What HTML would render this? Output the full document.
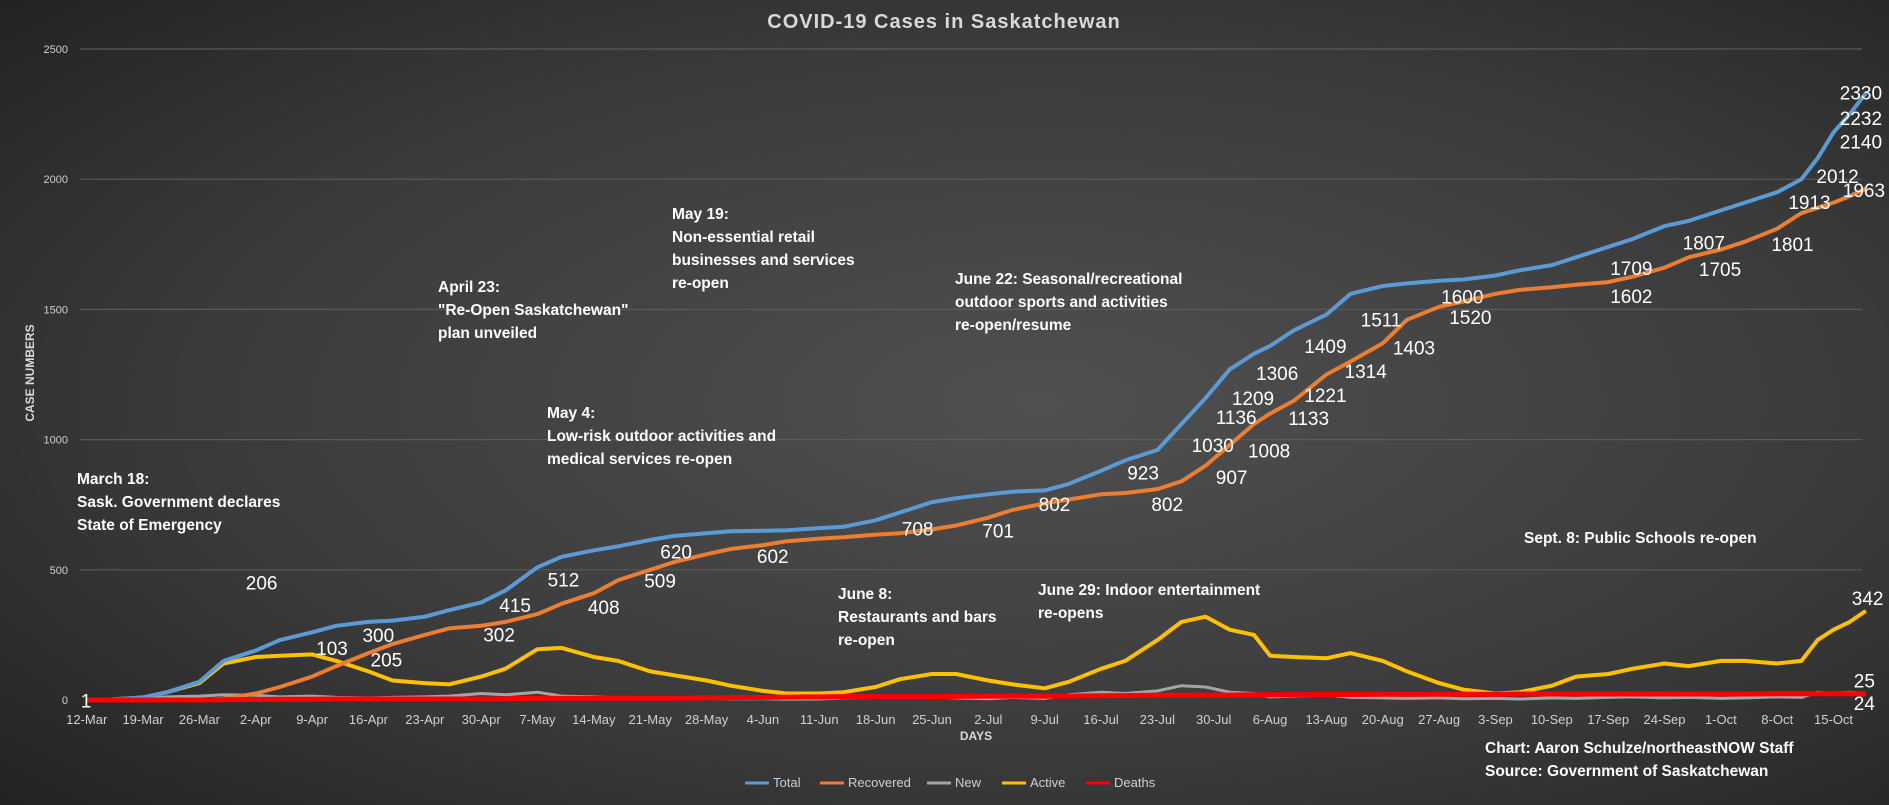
<!DOCTYPE html>
<html><head><meta charset="utf-8"><style>
html,body{margin:0;padding:0;width:1889px;height:805px;overflow:hidden;background:#2a2a2a}
svg{display:block}
text{font-family:"Liberation Sans",sans-serif}
</style></head><body>
<svg id="chart" width="1889" height="805" viewBox="0 0 1889 805" xmlns="http://www.w3.org/2000/svg">
<defs>
<radialGradient id="bg" cx="0.55" cy="0.5" r="0.75">
<stop offset="0" stop-color="#505050"/><stop offset="0.6" stop-color="#3a3a3a"/><stop offset="1" stop-color="#222"/>
</radialGradient>
</defs>
<rect width="1889" height="805" fill="url(#bg)"/>
<text x="944" y="28" text-anchor="middle" font-size="20" font-weight="bold" fill="#d9d9d9" letter-spacing="1">COVID-19 Cases in Saskatchewan</text>
<g id="grid"></g><g id="xaxis"></g><g id="lines"></g><g id="labels"></g>
<text transform="translate(34,373) rotate(-90)" text-anchor="middle" font-size="12" font-weight="bold" fill="#d9d9d9">CASE NUMBERS</text>
<text x="976" y="740" text-anchor="middle" font-size="12" font-weight="bold" fill="#d9d9d9">DAYS</text>
<g fill="#fff" font-size="15.5" font-weight="bold">
<text x="77" y="484">March 18:<tspan x="77" dy="23">Sask. Government declares</tspan><tspan x="77" dy="23">State of Emergency</tspan></text>
<text x="438" y="292">April 23:<tspan x="438" dy="23">"Re-Open Saskatchewan"</tspan><tspan x="438" dy="23">plan unveiled</tspan></text>
<text x="547" y="418">May 4:<tspan x="547" dy="23">Low-risk outdoor activities and</tspan><tspan x="547" dy="23">medical services re-open</tspan></text>
<text x="672" y="219">May 19:<tspan x="672" dy="23">Non-essential retail</tspan><tspan x="672" dy="23">businesses and services</tspan><tspan x="672" dy="23">re-open</tspan></text>
<text x="838" y="599">June 8:<tspan x="838" dy="23">Restaurants and bars</tspan><tspan x="838" dy="23">re-open</tspan></text>
<text x="955" y="284">June 22: Seasonal/recreational<tspan x="955" dy="23">outdoor sports and activities</tspan><tspan x="955" dy="23">re-open/resume</tspan></text>
<text x="1038" y="595">June 29: Indoor entertainment<tspan x="1038" dy="23">re-opens</tspan></text>
<text x="1524" y="543">Sept. 8: Public Schools re-open</text>
<text x="1485" y="753">Chart: Aaron Schulze/northeastNOW Staff</text>
<text x="1485" y="776">Source: Government of Saskatchewan</text>
</g>
<g id="legend" font-size="13" fill="#d9d9d9"></g>
</svg>
<script>
const days=[0,3,7,10,14,17,21,24,28,31,35,38,42,45,49,52,56,59,63,66,70,73,77,80,84,87,91,94,98,101,105,108,112,115,119,122,126,129,133,136,139,142,145,147,150,154,157,161,164,168,171,175,178,182,185,189,192,196,199,203,206,210,213,215,217,219,221];
const totalVals=[1,2,10,30,70,150,190,230,260,285,300,305,320,345,375,420,510,550,575,590,615,630,640,648,650,652,660,665,690,720,760,775,790,800,805,830,880,920,960,1060,1160,1270,1330,1360,1420,1480,1560,1590,1600,1610,1615,1630,1650,1670,1700,1740,1770,1820,1840,1880,1910,1950,2000,2080,2180,2250,2330];
const recoveredVals=[0,0,0,0,0,5,25,50,90,130,180,215,250,275,285,300,330,370,410,460,500,530,560,580,595,610,620,625,635,640,655,670,700,730,755,770,790,795,810,840,900,980,1060,1100,1150,1250,1300,1370,1460,1510,1530,1560,1575,1585,1595,1605,1625,1660,1700,1730,1760,1810,1870,1890,1910,1935,1963];
const newVals=[1,2,6,12,15,20,18,12,15,10,8,10,12,15,25,20,30,15,12,8,10,5,6,4,5,3,4,8,10,15,12,8,5,10,6,20,30,25,35,55,50,30,25,12,15,20,10,8,6,8,5,6,4,8,6,10,12,8,10,6,8,12,10,30,25,30,25];
const activeVals=[1,2,10,30,65,140,165,170,175,150,110,75,65,60,90,120,195,200,165,150,110,95,75,55,35,25,25,30,50,80,100,100,75,60,45,70,120,150,230,300,320,270,250,170,165,160,180,150,110,65,40,25,30,55,90,100,120,140,130,150,150,140,150,230,270,300,342];
const deathVals=[0,0,0,0,0,1,2,3,3,4,4,4,4,4,4,5,6,6,6,6,6,7,8,9,10,11,12,13,13,13,13,14,15,15,15,15,16,17,18,18,19,19,20,20,20,21,21,22,22,22,22,22,23,23,23,23,23,23,23,23,23,24,24,24,24,24,24];
const tickLabels=["12-Mar","19-Mar","26-Mar","2-Apr","9-Apr","16-Apr","23-Apr","30-Apr","7-May","14-May","21-May","28-May","4-Jun","11-Jun","18-Jun","25-Jun","2-Jul","9-Jul","16-Jul","23-Jul","30-Jul","6-Aug","13-Aug","20-Aug","27-Aug","3-Sep","10-Sep","17-Sep","24-Sep","1-Oct","8-Oct","15-Oct"];
const yTicks=[0,500,1000,1500,2000,2500];
const totalLabelDays=[35,52,58,72,102,119,130,138,141,143,146,152,159,169,190,199,213,214.5,221,221,221];
const totalLabelVals=[300,415,512,620,708,802,923,1030,1136,1209,1306,1409,1511,1600,1709,1807,1913,2012,2140,2232,2330];
const recLabelDays=[0,29,36,50,63,70,84,112,133,141,145,150,152,157,163,170,190,204,213,221];
const recLabelVals=[1,103,205,302,408,509,602,701,802,907,1008,1133,1221,1314,1403,1520,1602,1705,1801,1963];
const activeLabelDays=[22,221];
const activeLabelVals=[206,342];
const endLabelVals=[25,24];

const NS="http://www.w3.org/2000/svg";
function X(d){return 86.7+d*8.05;}
function Y(v){return 700-v*0.2604;}
function mk(tag,attrs,parent){const e=document.createElementNS(NS,tag);for(const k in attrs)e.setAttribute(k,attrs[k]);parent.appendChild(e);return e;}
const grid=document.getElementById('grid');
yTicks.forEach(v=>{
  if(v>0){const l=mk('line',{x1:80,x2:1862,y1:Y(v),y2:Y(v),stroke:'#5a5a5a','stroke-width':1.2},grid);
  
  }
  const t=mk('text',{x:68,y:Y(v)+4,'text-anchor':'end','font-size':11,fill:'#d0d0d0'},grid);
  t.textContent=v;
  
  
});
const xa=document.getElementById('xaxis');
tickLabels.forEach((s,i)=>{
  const t=mk('text',{x:X(i*7),y:724,'text-anchor':'middle','font-size':13,fill:'#d0d0d0'},xa);
  t.textContent=s;
  
  
});
const series=[
 {name:'new',vals:newVals,color:'#a5a5a5',w:3},
 {name:'active',vals:activeVals,color:'#ffc000',w:4},
 {name:'recovered',vals:recoveredVals,color:'#ed7d31',w:4},
 {name:'total',vals:totalVals,color:'#5b9bd5',w:4},
 {name:'deaths',vals:deathVals,color:'#ff0000',w:5}
];
const lg=document.getElementById('lines');
series.forEach(s=>{
  const d=s.vals.map((v,i)=>(i?'L':'M')+X(days[i]).toFixed(1)+' '+Y(v).toFixed(1)).join(' ');
  const p=mk('path',{d:d,fill:'none',stroke:s.color,'stroke-width':s.w,'stroke-linejoin':'round'},lg);
  
  
});
const lb=document.getElementById('labels');
function lab(d,v,txt,dx,dy){
  const t=mk('text',{x:X(d)+dx,y:Y(v)+dy,'font-size':19,fill:'#fff'},lb);
  t.textContent=txt;
  
  
}
totalLabelDays.forEach((d,i)=>{
  const v=totalLabelVals[i];
  if(i===16) lab(d,v,v,-13,7);
  else if(i===17) lab(d,v,v,3,7);
  else if(i>=18) lab(d,v,v,-26,6);
  else lab(d,v,v,-6,20);
});
recLabelDays.forEach((d,i)=>{
  const v=recLabelVals[i];
  if(i===0) lab(d,v,v,-6,8);
  else if(i===1) lab(d,v,v,-4,-18);
  else if(i===19) lab(d,v,v,-23,8);
  else if(i>=17) lab(d,v,v,-30,20);
  else lab(d,v,v,-6,20);
});
lab(activeLabelDays[0],activeLabelVals[0],activeLabelVals[0],-18,-57);
lab(activeLabelDays[1],activeLabelVals[1],activeLabelVals[1],-14,-6);
lab(221,endLabelVals[0],endLabelVals[0],-12,-6);
lab(221,endLabelVals[1],endLabelVals[1],-12,16);
const leg=document.getElementById('legend');
[['Total','#5b9bd5',745],['Recovered','#ed7d31',820],['New','#a5a5a5',927],['Active','#ffc000',1002],['Deaths','#ff0000',1086]].forEach(e=>{
  const g=mk('g',{},leg);
  
  
  mk('line',{x1:e[2],x2:e[2]+24,y1:783,y2:783,stroke:e[1],'stroke-width':3},g);
  const t=mk('text',{x:e[2]+28,y:787,'font-size':13,fill:'#d0d0d0'},g);
  t.textContent=e[0];
});
</script>
</body></html>
